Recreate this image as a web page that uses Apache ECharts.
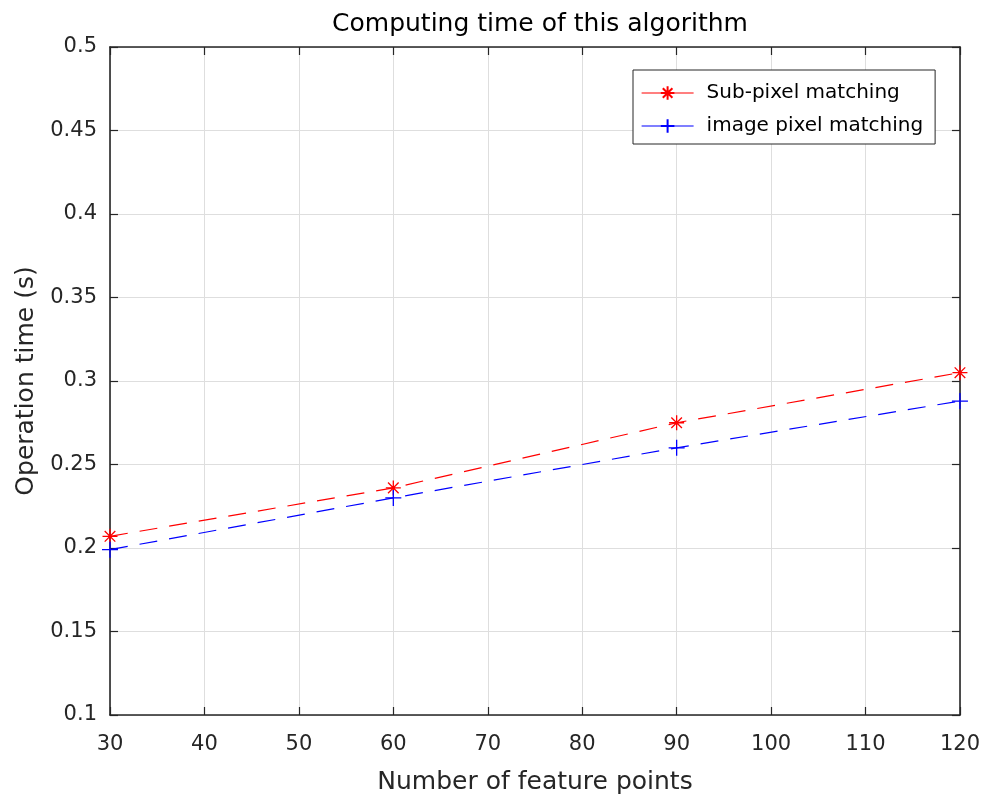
<!DOCTYPE html>
<html><head><meta charset="utf-8">
<script src="https://cdn.jsdelivr.net/npm/echarts@6/dist/echarts.min.js"></script>
<style>html,body{margin:0;padding:0;background:#fff}#c{width:983px;height:800px}</style>
</head><body><div id="c"></div>
<script>
const featurePoints = [30, 60, 90, 120];
const subPixel = [0.207, 0.236, 0.275, 0.305];
const imagePixel = [0.199, 0.230, 0.260, 0.288];
const seriesNames = ['Sub-pixel matching', 'image pixel matching'];
const titleText = 'Computing time of this algorithm';
const xName = 'Number of feature points';
const yName = 'Operation time (s)';

const STAR = 'path://M0,-10L0,10M-10,0L10,0M-7.07,-7.07L7.07,7.07M-7.07,7.07L7.07,-7.07';
const PLUS = 'path://M0,-10L0,10M-10,0L10,0';
const FONT = '"DejaVu Sans", sans-serif';
const AX = '#262626';

const chart = echarts.init(document.getElementById('c'), null, {renderer: 'canvas'});
const fmtY = v => String(parseFloat(v.toFixed(2)));
chart.setOption({
  animation: false,
  backgroundColor: '#fff',
  title: {text: titleText, left: 535, top: 7, textAlign: 'center',
    textStyle: {fontFamily: FONT, fontSize: 25, fontWeight: 'normal', color: '#000'}},
  grid: {left: 110, right: 23, top: 47, bottom: 84, containLabel: false},
  legend: {
    orient: 'vertical', left: 633, top: 70,
    padding: [13, 12, 8, 8], itemGap: 13, itemWidth: 52, itemHeight: 17,
    borderColor: '#262626', borderWidth: 1, backgroundColor: '#fff',
    lineStyle: {type: 'solid', width: 1.2},
    textStyle: {fontFamily: FONT, fontSize: 20, color: '#000', padding: [0, 0, 0, 8]},
    data: seriesNames
  },
  xAxis: [{
    type: 'value', min: 30, max: 120, interval: 10,
    name: xName, nameLocation: 'middle', nameGap: 55,
    nameTextStyle: {fontFamily: FONT, fontSize: 25, color: AX},
    axisLine: {show: true, onZero: false, lineStyle: {color: AX, width: 1.6}},
    axisTick: {show: true, inside: true, length: 8, lineStyle: {color: AX, width: 1.2}},
    axisLabel: {fontFamily: FONT, fontSize: 21, color: AX, margin: 19},
    splitLine: {show: true, lineStyle: {color: '#dedede', width: 1}}
  }, {
    type: 'value', min: 30, max: 120, interval: 10, position: 'top',
    axisLine: {show: true, onZero: false, lineStyle: {color: AX, width: 1.6}},
    axisTick: {show: true, inside: true, length: 8, lineStyle: {color: AX, width: 1.2}},
    axisLabel: {show: false}, splitLine: {show: false}
  }],
  yAxis: [{
    type: 'value', min: 0.1, max: 0.5, interval: 0.05,
    name: yName, nameLocation: 'middle', nameGap: 70,
    nameTextStyle: {fontFamily: FONT, fontSize: 25, color: AX},
    axisLine: {show: true, onZero: false, lineStyle: {color: AX, width: 1.6}},
    axisTick: {show: true, inside: true, length: 8, lineStyle: {color: AX, width: 1.2}},
    axisLabel: {fontFamily: FONT, fontSize: 21, color: AX, margin: 13, formatter: fmtY},
    splitLine: {show: true, lineStyle: {color: '#dedede', width: 1}}
  }, {
    type: 'value', min: 0.1, max: 0.5, interval: 0.05, position: 'right',
    axisLine: {show: true, onZero: false, lineStyle: {color: AX, width: 1.6}},
    axisTick: {show: true, inside: true, length: 8, lineStyle: {color: AX, width: 1.2}},
    axisLabel: {show: false}, splitLine: {show: false}
  }],
  series: [{
    name: seriesNames[0], type: 'line',
    data: featurePoints.map((x, i) => [x, subPixel[i]]),
    symbol: STAR, symbolSize: 15, showAllSymbol: true,
    lineStyle: {color: '#ff0000', width: 1.2, type: [18, 12]},
    itemStyle: {color: 'rgba(0,0,0,0)', borderColor: '#ff0000', borderWidth: 1.3},
    emphasis: {disabled: true}, z: 3
  }, {
    name: seriesNames[1], type: 'line',
    data: featurePoints.map((x, i) => [x, imagePixel[i]]),
    symbol: PLUS, symbolSize: 16, showAllSymbol: true,
    lineStyle: {color: '#0000ff', width: 1.2, type: [18, 12]},
    itemStyle: {color: 'rgba(0,0,0,0)', borderColor: '#0000ff', borderWidth: 1.3},
    emphasis: {disabled: true}, z: 3
  }]
});
</script></body></html>
